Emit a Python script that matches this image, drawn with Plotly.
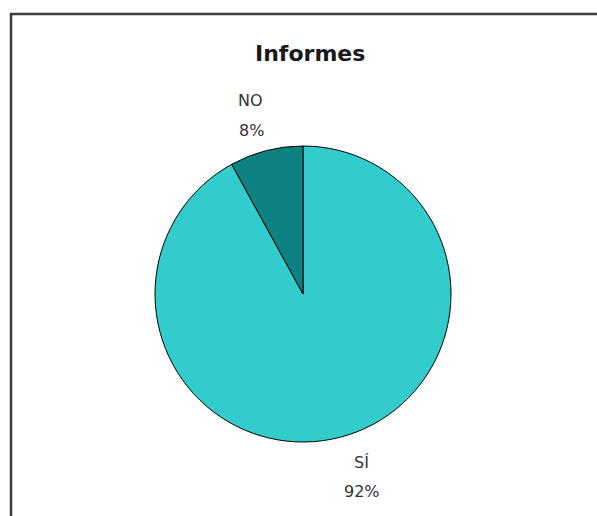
import plotly.graph_objects as go

# Survey answers for "Informes"
title_text = "Informes"
categories = ["SÍ", "NO"]
values = [92, 8]
colors = ["#33CCCC", "#0E8282"]

W, H = 597, 516
total = sum(values)
percents = [f"{round(v / total * 100)}%" for v in values]

fig = go.Figure(
    go.Pie(
        labels=categories,
        values=values,
        sort=False,
        direction="clockwise",
        rotation=0,
        marker=dict(colors=colors, line=dict(color="#000000", width=1)),
        textinfo="none",
        hoverinfo="label+percent",
        showlegend=False,
        domain=dict(x=[155 / W, 451 / W], y=[74 / H, 370 / H]),
    )
)

# Label positions (pixel centres) for each slice: name line, then percent line
label_pos = {
    "SÍ": [(361, 462), (362, 491)],
    "NO": [(250, 100), (251, 130)],
}

annotations = [
    dict(text=f"<b>{title_text}</b>", x=310 / W, y=1 - 54 / H, xref="paper", yref="paper",
         showarrow=False, font=dict(family="DejaVu Sans", size=22, color="#1a1a1a"),
         xanchor="center", yanchor="middle")
]
for cat, pct in zip(categories, percents):
    (x1, y1), (x2, y2) = label_pos[cat]
    for txt, (px, py) in ((cat, (x1, y1)), (pct, (x2, y2))):
        annotations.append(
            dict(text=txt, x=px / W, y=1 - py / H, xref="paper", yref="paper",
                 showarrow=False, font=dict(family="DejaVu Sans", size=16, color="#333333"),
                 xanchor="center", yanchor="middle")
        )

fig.update_layout(
    width=W,
    height=H,
    margin=dict(l=0, r=0, t=0, b=0),
    paper_bgcolor="white",
    plot_bgcolor="white",
    annotations=annotations,
    shapes=[
        dict(type="rect", xref="paper", yref="paper",
             x0=11 / W, x1=1.05, y0=-0.05, y1=1 - 14 / H,
             line=dict(color="#3c3c3c", width=2.5), fillcolor="rgba(0,0,0,0)")
    ],
)

fig.write_html("out.html")
